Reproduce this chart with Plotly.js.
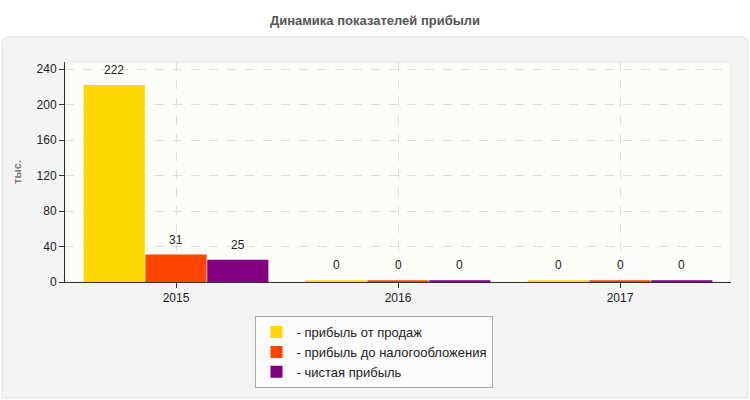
<!DOCTYPE html>
<html>
<head>
<meta charset="utf-8">
<script src="https://cdn.plot.ly/plotly-3.0.1.min.js"></script>
<style>
  html, body { margin: 0; padding: 0; background: #fff; }
  #chart { width: 750px; height: 400px; }
</style>
</head>
<body>
<div id="chart"></div>
<script>
// ─── Data ───
const years = ["2015", "2016", "2017"];
const salesProfit = [222, 0, 0];
const pretaxProfit = [31, 0, 0];
const netProfit = [25, 0, 0];

const seriesNames = [
  "- прибыль от продаж",
  "- прибыль до налогообложения",
  "- чистая прибыль",
];
const seriesColors = ["#FFD700", "#FF4500", "#800080"];
const series = [salesProfit, pretaxProfit, netProfit];

// zero bars are drawn as a thin sliver, like the original
const visible = (arr) => arr.map((v) => Math.max(v, 2));

const bargap = 0.165;
const barW = (1 - bargap) / series.length;

const traces = series.map((vals, i) => ({
  x: years,
  y: visible(vals),
  type: "bar",
  name: seriesNames[i],
  marker: { color: seriesColors[i], line: { width: 0 } },
  hoverinfo: "none",
}));

// value labels, floated a bit above each bar
const labels = [];
series.forEach((vals, i) => {
  vals.forEach((v, j) => {
    labels.push({
      x: j + (i - (series.length - 1) / 2) * barW,
      y: Math.max(v, 2),
      xref: "x",
      yref: "y",
      text: String(v),
      showarrow: false,
      yanchor: "bottom",
      yshift: 6,
      font: { size: 12, color: "#222" },
    });
  });
});

const font = "Liberation Sans, Arial, sans-serif";

const layout = {
  width: 750,
  height: 400,
  margin: { l: 65, r: 19, t: 62, b: 118 },
  paper_bgcolor: "#ffffff",
  plot_bgcolor: "rgba(0,0,0,0)",
  font: { family: font, size: 12, color: "#222" },
  title: {
    text: "<b>Динамика показателей прибыли</b>",
    font: { family: font, size: 13, color: "#555" },
    x: 0.5,
    xanchor: "center",
    y: 0.95,
    yanchor: "middle",
  },
  barmode: "group",
  bargap: bargap,
  bargroupgap: 0.01,
  showlegend: true,
  legend: {
    x: 0.4647,
    xanchor: "center",
    y: -0.155,
    yanchor: "top",
    orientation: "v",
    bgcolor: "#fbfbfb",
    bordercolor: "#aaaaaa",
    borderwidth: 1,
    font: { family: font, size: 13, color: "#222" },
    tracegroupgap: 0,
    itemwidth: 30,
  },
  xaxis: {
    type: "category",
    showgrid: true,
    gridcolor: "#dddddd",
    griddash: "dash",
    showline: true,
    linecolor: "#333",
    linewidth: 1,
    ticks: "outside",
    ticklen: 5,
    tickcolor: "#333",
    tickfont: { size: 12, color: "#222" },
    fixedrange: true,
  },
  yaxis: {
    range: [0, 248],
    tickvals: [0, 40, 80, 120, 160, 200, 240],
    showgrid: true,
    gridcolor: "#dddddd",
    griddash: "dash",
    zeroline: false,
    showline: true,
    linecolor: "#333",
    linewidth: 1,
    ticks: "outside",
    ticklen: 5,
    tickcolor: "#333",
    tickfont: { size: 12, color: "#222" },
    title: {
      text: "<b>тыс.</b>",
      font: { size: 11, color: "#777" },
      standoff: 12,
    },
    fixedrange: true,
  },
  annotations: labels,
  shapes: [
    // outer grey panel
    {
      type: "path",
      xref: "paper",
      yref: "paper",
      path: "M -0.085,1.1136 L 1.0165,1.1136 Q 1.0255,1.1136 1.0255,1.08 L 1.0255,-0.527 L -0.0946,-0.527 L -0.0946,1.08 Q -0.0946,1.1136 -0.085,1.1136 Z",
      fillcolor: "#f4f4f4",
      line: { color: "#e2e2e2", width: 1 },
      layer: "below",
    },
    // plot area background
    {
      type: "rect",
      xref: "paper",
      yref: "paper",
      x0: 0,
      x1: 1,
      y0: 0,
      y1: 1,
      fillcolor: "#fdfdf8",
      line: { color: "#e6e6e6", width: 1 },
      layer: "below",
    },
  ],
};

Plotly.newPlot("chart", traces, layout, { displayModeBar: false, staticPlot: true });
</script>
</body>
</html>
